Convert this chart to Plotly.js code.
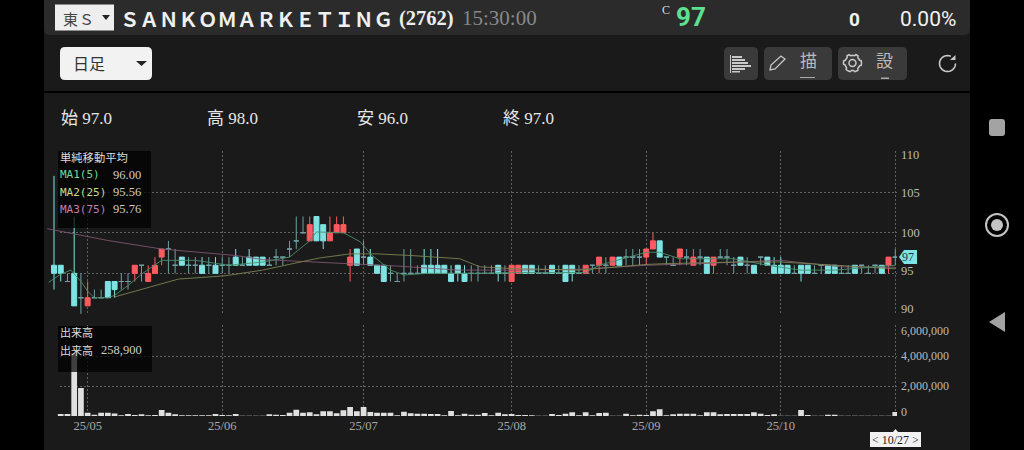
<!DOCTYPE html>
<html><head><meta charset="utf-8">
<script src="https://cdn.plot.ly/plotly-3.0.1.min.js"></script>
<style>html,body{margin:0;padding:0;background:#000;overflow:hidden}#c{width:1024px;height:450px}</style>
</head><body><div id="c"></div>
<script>
const opens =[96,96,94,95,92,91,92,92,94,94,94,94,95,96,94,95,97,98,96,97,96,96,96,96,96,96,96,97,96,97,97,97,96,97,97,98,99,100,99,102,101,99,100,100,96,98,97,97,96,96,95,94,95,95,95,96,96,96,96,95,96,95,95,95,95,95,96,95,94,95,96,96,95,95,96,95,96,96,95,95,96,96,96,96,97,97,97,97,97,98,99,97,96,97,97,96,97,97,96,97,97,96,97,96,96,97,97,96,96,96,95,96,96,95,96,96,96,95,95,96,96,95,96,96,96,97];
const highs =[107,96,95,102,95,94,93,93,94,94,95,95,96,96,96,97,98,99,98,97,97,97,97,97,97,97,97,98,97,98,97,97,97,98,97,99,102,102,102,102,101,102,102,102,98,98,99,98,96,96,96,95,98,98,96,98,98,98,96,96,96,96,96,96,96,96,96,96,96,96,96,96,96,96,96,96,96,96,96,96,96,97,97,97,97,98,98,98,98,100,99,97,97,98,98,98,98,97,97,98,98,97,97,97,96,97,97,97,97,96,96,96,96,96,96,96,96,96,96,96,96,96,96,96,97,98];
const lows  =[93,94,94,91,90,91,92,92,92,92,93,93,94,94,94,95,96,95,95,96,95,95,95,95,95,95,95,96,96,96,96,96,96,96,96,97,98,100,99,99,98,99,100,100,94,96,96,96,95,94,94,94,94,95,95,95,95,95,95,94,94,94,94,94,95,95,94,94,94,95,95,95,95,95,95,95,94,94,95,95,95,95,95,96,96,96,96,96,96,98,97,96,96,96,96,96,96,95,95,97,96,95,96,95,95,96,96,95,95,95,95,94,95,95,95,95,95,95,95,95,95,95,95,95,95,96];
const closes=[95,95,94,91,92,92,92,92,92,93,94,94,96,96,95,96,98,98,96,96,96,96,95,96,95,96,96,96,96,96,96,96,96,97,97,98,99,100,101,99,99,100,101,101,97,96,97,96,95,94,95,94,95,95,95,95,95,95,95,94,95,94,95,95,95,95,95,95,96,96,95,95,95,95,95,95,94,95,95,96,96,97,96,97,96,97,97,97,98,99,97,97,96,98,97,97,97,95,97,97,97,96,96,96,95,97,96,95,95,95,95,95,95,95,96,95,95,95,95,95,96,95,96,95,97,97];
const volumes=[null,130000,130000,4200000,1870000,220000,90000,220000,220000,160000,45000,130000,70000,110000,45000,70000,400000,220000,110000,45000,45000,45000,45000,45000,130000,70000,45000,130000,22000,22000,22000,22000,110000,90000,70000,220000,420000,220000,245000,110000,310000,310000,180000,380000,600000,310000,600000,270000,220000,220000,220000,45000,290000,180000,155000,155000,130000,130000,45000,330000,45000,155000,90000,90000,200000,45000,220000,110000,130000,70000,70000,45000,22000,22000,130000,70000,155000,245000,45000,245000,45000,200000,220000,22000,22000,155000,45000,90000,70000,310000,450000,45000,110000,155000,155000,155000,45000,245000,245000,110000,130000,130000,130000,130000,245000,155000,70000,110000,22000,22000,22000,400000,70000,22000,22000,90000,90000,22000,22000,22000,22000,22000,22000,22000,22000,258900];
const ma1X=[-0.8,1,2.5,4.1,5,6,8,9,11,13,16,17,21,26,31,35,38,39,43,45.5,47,50,52,55.4,63,68,79,81,88,90,93,96,101,106,111,116,125];
const ma1Y=[93.9,94.9,95.4,93.9,92.8,92,92,92.3,93.5,94.9,96.6,96.6,96.6,96,96.4,97,99,100.1,100,98.9,97.4,95.4,94.8,95,95,95.1,95.1,96,97.6,97.6,96.8,96.8,96.8,96,95.4,95.4,96];
const ma2X=[9,13.5,18.5,25.4,31,35.5,39.5,44,48,53,60.3,63.3,68,78,88,91,96,101,108,116,125];
const ma2Y=[92.1,93.1,94.3,94.7,95.4,96.2,96.9,97.4,97.4,97.2,96.8,95.8,95.6,95.4,96.1,96.2,96.3,96.4,96.4,96,95.56];
const ma3X=[-1,8,16,27,31,43,51,60,68,78,88,96,108,117,125];
const ma3Y=[100.5,99.05,98,97.2,96.7,96.2,95.9,95.4,95.4,95.5,96,96.2,96.6,95.8,95.76];
const monthTicks=[5,25,46,68,88,108,125];
const monthLabels=['25/05','25/06','25/07','25/08','25/09','25/10',''];
const priceTicks=[90,95,100,105,110];
const volumeTicks=[0,2000000,4000000,6000000];

const W=1024,H=450,X0=44,X1=897;
const px=x=>x/W, py=y=>1-y/H;
const SERIF='"Liberation Serif","Noto Sans CJK JP",serif', SANS='"Noto Sans CJK JP","Noto Sans",sans-serif', UI='Roboto,"Noto Sans",sans-serif';
const idx=opens.map((_,i)=>i);
function pick(f){const k=idx.filter(f);return {x:k,open:k.map(i=>opens[i]),high:k.map(i=>highs[i]),low:k.map(i=>lows[i]),close:k.map(i=>closes[i])};}
const UP='#ff5a5f',DOWN='#7fe3e3',DOJI='#6f9fa3';
const candle=(d,up,dn,w)=>Object.assign({type:'candlestick',xaxis:'x',yaxis:'y',whiskerwidth:0,hoverinfo:'skip',
  increasing:{line:{color:up,width:w},fillcolor:up},decreasing:{line:{color:dn,width:w},fillcolor:dn}},d);
const line=(x,y,c)=>({type:'scatter',mode:'lines',x,y,xaxis:'x',yaxis:'y',line:{color:c,width:0.9},hoverinfo:'skip'});
const data=[
 line(ma3X,ma3Y,'#7f5571'),line(ma2X,ma2Y,'#7d8250'),line(ma1X,ma1Y,'#478f6c'),
 candle(pick(i=>opens[i]===closes[i]),DOJI,DOJI,1),
 candle(pick(i=>opens[i]!==closes[i]),UP,DOWN,1),
 {type:'bar',x:idx,y:volumes,xaxis:'x',yaxis:'y2',width:0.85,marker:{color:'#e0e0e0',line:{width:0}},hoverinfo:'skip'}
];
const P=(x0,y0,x1,y1,o)=>Object.assign({type:'rect',xref:'paper',yref:'paper',x0:px(x0),y0:py(y0),x1:px(x1),y1:py(y1),line:{width:0}},o);
function rr(x0,y0,x1,y1,r){const a=(x,y)=>px(x)+','+py(y);
 return 'M'+a(x0+r,y0)+' L'+a(x1-r,y0)+' Q'+a(x1,y0)+' '+a(x1,y0+r)+' L'+a(x1,y1-r)+' Q'+a(x1,y1)+' '+a(x1-r,y1)+' L'+a(x0+r,y1)+' Q'+a(x0,y1)+' '+a(x0,y1-r)+' L'+a(x0,y0+r)+' Q'+a(x0,y0)+' '+a(x0+r,y0)+' Z';}
const PATH=(d,o)=>Object.assign({type:'path',xref:'paper',yref:'paper',path:d,line:{width:0}},o);
const poly=(pts,close)=>'M'+pts.map(p=>px(p[0])+','+py(p[1])).join(' L')+(close?' Z':'');
const CIRC=(cx,cy,r,o)=>Object.assign({type:'circle',xref:'paper',yref:'paper',x0:px(cx-r),x1:px(cx+r),y0:py(cy-r),y1:py(cy+r),line:{width:0}},o);
function arc(cx,cy,r,a0,a1){const p=[];for(let k=0;k<=24;k++){const a=(a0+(a1-a0)*k/24)*Math.PI/180;p.push([cx+r*Math.cos(a),cy+r*Math.sin(a)]);}return p;}
function gear(cx,cy,r){const p=[];for(let k=0;k<48;k++){const a=k/48*2*Math.PI;const rr2=r*(Math.cos(a*6)>0?1:0.84);p.push([cx+rr2*Math.cos(a),cy+rr2*Math.sin(a)]);}return p;}
const STROKE=(c,w)=>({line:{color:c,width:w}});
const BG='#1a1a1a',ICON='#c9c9c9',BTN='#3a3a3a';
const shapes=[
 P(44,0,970,450,{fillcolor:BG,layer:'below'}),
 PATH(rr(44,-8,970,35,6),{fillcolor:'#2b2b2b',layer:'below'}),
 P(44,91,970,93,{fillcolor:'#000',layer:'below'}),
 P(55,4.5,114,30.5,{fillcolor:'#eeeeee',layer:'below'}),
 PATH(poly([[102,15],[110,15],[106,20]],true),{fillcolor:'#222'}),
 PATH(rr(60,47,152,80,5),{fillcolor:'#f2f2f2',layer:'below'}),
 PATH(poly([[136,61],[147,61],[141.5,66]],true),{fillcolor:'#222'}),
 PATH(rr(724,47,758,80,5),{fillcolor:BTN,layer:'below'}),
 PATH(rr(764,47,832,80,5),{fillcolor:BTN,layer:'below'}),
 PATH(rr(838,47,907,80,5),{fillcolor:BTN,layer:'below'}),
 P(730,55,731,73,{fillcolor:ICON}),
 P(732,56,742,58,{fillcolor:ICON}),P(732,59,745,61,{fillcolor:ICON}),P(732,62,748,64,{fillcolor:ICON}),P(732,65,751,67,{fillcolor:ICON}),P(732,68,745,70,{fillcolor:ICON}),P(732,71,740,72.5,{fillcolor:ICON}),
 PATH(poly([[770,70],[771,65],[781,56],[785,59],[775,69]],true),Object.assign({fillcolor:'rgba(0,0,0,0)'},STROKE(ICON,1.3))),
 PATH(poly(gear(852.5,63,9),true),Object.assign({fillcolor:'rgba(0,0,0,0)'},STROKE(ICON,1.5))),
 CIRC(852.5,63,3.5,STROKE(ICON,1.5)),
 P(800,77,815,78,{fillcolor:'#aaaaaa'}),
 P(881,77.5,889,79,{fillcolor:'#aaaaaa'}),
 PATH(poly(arc(947.5,63.5,8,0,295)),STROKE(ICON,1.6)),
 PATH(poly([[950,60],[955.5,60],[955.5,55]],true),{fillcolor:ICON}),
 {type:'rect',layer:'between',xref:'x',yref:'y',x0:-1.6,x1:(58-54)/6.73,y0:85,y1:115,fillcolor:BG,line:{width:0}},
 {type:'rect',layer:'between',xref:'x',yref:'y2',x0:-1.6,x1:(58-54)/6.73,y0:-100000,y1:6100000,fillcolor:BG,line:{width:0}},
 P(58,151,151,228,{fillcolor:'rgba(0,0,0,0.72)'}),
 P(58,326,152,372,{fillcolor:'rgba(0,0,0,0.72)'}),
 PATH(poly([[899,257],[904,250],[917,250],[917,264],[904,264]],true),{fillcolor:'#7fe3e3'}),
 P(870,432,921,447,{fillcolor:'#f2f2f2'}),
 PATH(poly([[893,432],[895.5,429],[898,432]],true),{fillcolor:'#f2f2f2'}),
 PATH(rr(989,119,1005,136,3),{fillcolor:'#a3a3a3'}),
 CIRC(997,225,11,STROKE('#c4c4c4',2)),
 CIRC(997,225,6,{fillcolor:'#c4c4c4'}),
 PATH(poly([[989,322],[1005,312],[1005,332]],true),{fillcolor:'#a3a3a3'})
];
const T=(text,x,y,size,color,font,o)=>Object.assign({text,xref:'paper',yref:'paper',x:px(x),y:py(y),xanchor:'left',yanchor:'middle',showarrow:false,font:{size,color,family:font},borderpad:0,borderwidth:0},o||{});
const annotations=[
 T('東',63,18,15,'#444',SANS),T('Ｓ',79,18,15,'#444',SANS),
 T('<b>ＳＡＮＫＯＭＡＲＫＥＴＩＮＧ</b>',120,18,19.5,'#f0f0f0',SANS),
 T('<b>(2762)</b>',399,18,20.5,'#eeeeee',SERIF),
 T('15:30:00',462,18,21,'#888888',SERIF),
 T('C',662,10,12,'#dddddd',SERIF),
 T('<b>97</b>',676,17,26,'#5de08f',UI),
 T('<b>0</b>',849,19,19,'#f2f2f2',UI),
 T('0.00%',900,19,21,'#f2f2f2','Roboto'),
 T('日足',73,63,16,'#333',SANS),
 T('描',800,60,17,'#bbbbbb',SANS),
 T('設',876,60,17,'#bbbbbb',SANS),
 T('始 97.0',61,118,17,'#e6e6e6',SERIF),
 T('高 98.0',207,118,17,'#e6e6e6',SERIF),
 T('安 96.0',357,118,17,'#e6e6e6',SERIF),
 T('終 97.0',503,118,17,'#e6e6e6',SERIF),
 T('単純移動平均',60,157,11.3,'#dddddd',SANS),
 T('MA1(5)',60,175,11,'#6fd89b','"DejaVu Sans Mono"'),
 T('MA2(25)',60,192,11,'#cdd98a','"DejaVu Sans Mono"'),
 T('MA3(75)',60,209,11,'#c27fb0','"DejaVu Sans Mono"'),
 T('96.00',113,175,12.5,'#cccccc',SERIF),
 T('95.56',113,192,12.5,'#cccccc',SERIF),
 T('95.76',113,209,12.5,'#cccccc',SERIF),
 T('出来高',60,332,11,'#dddddd',SANS),
 T('出来高',60,350,11,'#dddddd',SANS),
 T('258,900',101,350,12.5,'#cccccc',SERIF),
 T('97',902,257,12,'#173a3c',SERIF),
 T('< 10/27 >',895.5,440,12,'#222222',SERIF,{xanchor:'center'})
];
const priceShift={90:5,95:2,100:0,105:-1,110:-3.5};
priceTicks.forEach(v=>annotations.push({text:String(v),xref:'paper',yref:'y',x:px(899),y:v,yshift:priceShift[v],xanchor:'left',yanchor:'middle',showarrow:false,font:{size:12.5,color:'#bbbbbb',family:SERIF}}));
const volShift={0:4,2000000:0,4000000:0,6000000:-5};
volumeTicks.forEach(v=>annotations.push({text:v.toLocaleString('en-US'),xref:'paper',yref:'y2',x:px(899),y:v,yshift:volShift[v],xanchor:'left',yanchor:'middle',showarrow:false,font:{size:12,color:'#bbbbbb',family:SERIF}}));
const GRID='#626262',DASH='2px,2px';
const layout={width:W,height:H,margin:{l:0,r:0,t:0,b:0},paper_bgcolor:'#000',plot_bgcolor:'rgba(0,0,0,0)',showlegend:false,boxgap:0.26,boxgroupgap:0,
 xaxis:{domain:[X0/W,X1/W],range:[(X0-54)/6.73,(X1-54)/6.73],anchor:'y2',rangeslider:{visible:false},tickmode:'array',tickvals:monthTicks,ticktext:monthLabels,
  showgrid:true,gridcolor:GRID,griddash:DASH,gridwidth:1,zeroline:false,showline:false,ticks:'',tickfont:{size:12.5,color:'#aaaaaa',family:SERIF}},
 yaxis:{domain:[py(314.8),py(150.7)],range:[89.9,110.1],tickmode:'array',tickvals:priceTicks,showticklabels:false,showgrid:true,gridcolor:GRID,griddash:DASH,zeroline:false,showline:false,ticks:''},
 yaxis2:{domain:[py(416.75),py(325.25)],range:[-50000,6050000],tickmode:'array',tickvals:volumeTicks,showticklabels:false,showgrid:true,gridcolor:GRID,griddash:DASH,zeroline:false,showline:false,ticks:''},
 shapes,annotations,bargap:0.15};
Plotly.newPlot('c',data,layout,{displayModeBar:false,staticPlot:true});
</script></body></html>
